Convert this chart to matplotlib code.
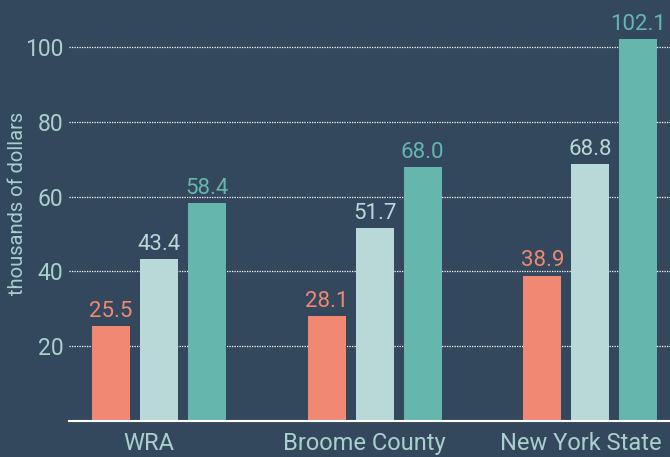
import matplotlib
matplotlib.use("Agg")
import matplotlib.pyplot as plt
import matplotlib.transforms as mtrans
import numpy as np

regions = ["WRA", "Broome County", "New York State"]
series_a = [25.5, 28.1, 38.9]
series_b = [43.4, 51.7, 68.8]
series_c = [58.4, 68.0, 102.1]
y_ticks = [20, 40, 60, 80, 100]

bg = "#34485d"
colors = ["#f08873", "#b8d9d8", "#65b7ae"]
label_col = "#a9d0cc"

plt.rcParams["font.family"] = ["Roboto", "DejaVu Sans"]

fig = plt.figure(figsize=(6.7, 4.57), dpi=100, facecolor=bg)
ax = fig.add_axes([69 / 670, 36 / 457, 601 / 670, 421 / 457])
ax.set_facecolor(bg)

x = np.arange(len(regions))
w = 0.176
step = 0.2225
for i, vals in enumerate([series_a, series_b, series_c]):
    pos = x + (i - 1) * step
    ax.bar(pos, vals, width=w, color=colors[i], zorder=3)
    for p, v in zip(pos, vals):
        ax.text(p, v + 1.1, f"{v:.1f}", ha="center", va="bottom",
                color=colors[i], fontsize=16)

ax.set_xlim(-0.417, 2.369)
ax.set_ylim(0, 112.6)
ax.set_yticks(y_ticks)
ax.set_yticklabels([str(t) for t in y_ticks])
ax.set_xticks(x)
ax.set_xticklabels(regions)
ax.tick_params(axis="both", length=0, colors=label_col)
ax.tick_params(axis="y", labelsize=16.5, pad=4)
ax.tick_params(axis="x", labelsize=17, pad=8)
# labels sit a little left of the bar groups in the original
shift = mtrans.ScaledTranslation(-10 / 100, 0, fig.dpi_scale_trans)
for lab in ax.get_xticklabels():
    lab.set_transform(lab.get_transform() + shift)
ax.grid(axis="y", color="white", linestyle=(0, (1, 1)), linewidth=0.9, zorder=0)
for s in ["top", "right", "left"]:
    ax.spines[s].set_visible(False)
ax.spines["bottom"].set_color("white")
ax.spines["bottom"].set_linewidth(1.5)
ax.spines["bottom"].set_zorder(4)

fig.text(18 / 670, 1 - 203 / 457, "thousands of dollars", rotation=90,
         ha="center", va="center", color=label_col, fontsize=14.5)

fig.savefig("out.png", dpi=100, facecolor=bg)
